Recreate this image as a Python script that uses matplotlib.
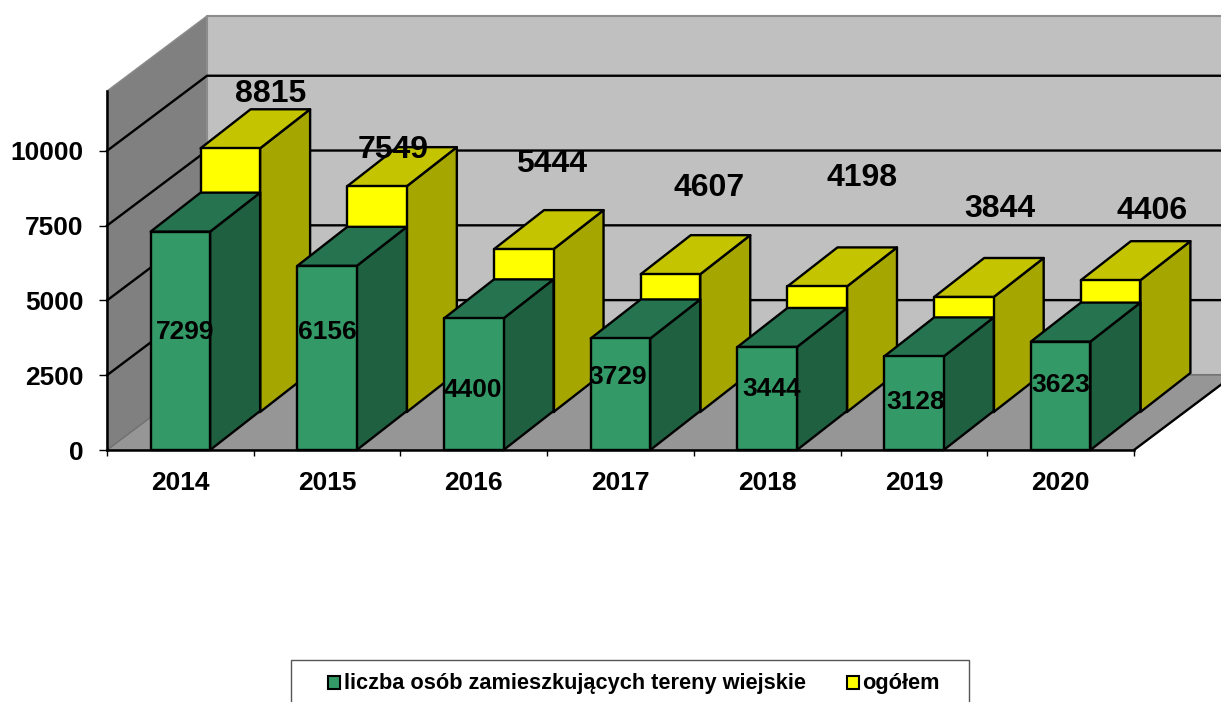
import matplotlib
matplotlib.use('Agg')
import matplotlib.pyplot as plt
from matplotlib.patches import Polygon, Rectangle
from matplotlib.transforms import Affine2D

years = ['2014', '2015', '2016', '2017', '2018', '2019', '2020']
wiejskie = [7299, 6156, 4400, 3729, 3444, 3128, 3623]
ogolem = [8815, 7549, 5444, 4607, 4198, 3844, 4406]
y_ticks = [0, 2500, 5000, 7500, 10000]
legend_labels = ['liczba osób zamieszkujących tereny wiejskie', 'ogółem']

# label centres in image pixels
wiejskie_pos = [(185, 332), (327, 332), (473, 390), (618, 377), (772, 389), (916, 402), (1061, 385)]
ogolem_pos = [(271, 94), (393, 150), (552, 164), (709, 188), (862, 178), (1000, 209), (1152, 211)]

W, H = 1221, 702
FONT = 'Liberation Sans'

fig = plt.figure(figsize=(W / 100, H / 100), dpi=100)
ax = fig.add_axes([107 / W, (H - 450) / H, (1134 - 107) / W, 359 / H])
ax.set_xlim(0, 7)
ax.set_ylim(0, 12000)
ax.patch.set_visible(False)

# image pixels -> figure
px = Affine2D().scale(1, -1).translate(0, H)

# depth of the whole box and of one bar, in data units
box_dx, box_dy = 100 / 146.7, 2510
bar_dx, bar_dy = 50 / 146.7, 1304
back_dy = 1270
bar_w = 59.5 / 146.7


def poly(points, color, edge='black', lw=1.7, z=2):
    ax.add_patch(Polygon(points, closed=True, facecolor=color, edgecolor=edge,
                         linewidth=lw, zorder=z, clip_on=False, joinstyle='round'))


def bar3d(x, y0, value, front, top, side, z):
    x0 = x - bar_w / 2
    x1 = x + bar_w / 2
    y1 = y0 + value
    poly([(x1, y0), (x1 + bar_dx, y0 + bar_dy), (x1 + bar_dx, y1 + bar_dy), (x1, y1)], side, z=z)
    poly([(x0, y1), (x1, y1), (x1 + bar_dx, y1 + bar_dy), (x0 + bar_dx, y1 + bar_dy)], top, z=z)
    poly([(x0, y0), (x1, y0), (x1, y1), (x0, y1)], front, z=z)


# walls and floor
poly([(0, 0), (box_dx, box_dy), (box_dx, 12000 + box_dy), (0, 12000)], '#808080', edge='#8c8c8c', lw=1, z=1)
poly([(box_dx, box_dy), (7 + box_dx, box_dy), (7 + box_dx, 12000 + box_dy), (box_dx, 12000 + box_dy)],
     '#c0c0c0', edge='#8c8c8c', lw=1.5, z=1)
poly([(0, 0), (7, 0), (7 + box_dx, box_dy), (box_dx, box_dy)], '#969696', edge='#6e6e6e', lw=1, z=1.1)

# gridlines
for t in y_ticks[1:]:
    ax.plot([0, box_dx, 7 + box_dx], [t, t + box_dy, t + box_dy], color='black', lw=1.7,
            zorder=1.5, clip_on=False)
ax.plot([7, 7 + box_dx], [0, box_dy], color='black', lw=1.7, zorder=1.5, clip_on=False)

# back series first, then the front one
for i, v in enumerate(ogolem):
    bar3d(i + 0.5 + bar_dx, back_dy, v, '#ffff00', '#c4c400', '#a6a600', 3 + i * 0.01)
for i, v in enumerate(wiejskie):
    bar3d(i + 0.5, 0, v, '#339966', '#267350', '#1f6040', 4 + i * 0.01)

for v, (x, y) in zip(wiejskie, wiejskie_pos):
    ax.text(x, y, str(v), transform=px, family=FONT, fontweight='bold', fontsize=19,
            ha='center', va='center', zorder=6, clip_on=False)
for v, (x, y) in zip(ogolem, ogolem_pos):
    ax.text(x, y, str(v), transform=px, family=FONT, fontweight='bold', fontsize=23,
            ha='center', va='center', zorder=6, clip_on=False)

# axes
for s in ['top', 'right']:
    ax.spines[s].set_visible(False)
for s in ['left', 'bottom']:
    ax.spines[s].set_linewidth(1.8)
    ax.spines[s].set_zorder(2.5)
ax.set_yticks(y_ticks)
ax.set_yticklabels([str(t) for t in y_ticks], family=FONT, fontweight='bold', fontsize=19)
ax.set_xticks(range(8))
ax.set_xticklabels([])
ax.set_xticks([i + 0.5 for i in range(7)], minor=True)
ax.set_xticklabels(years, minor=True, family=FONT, fontweight='bold', fontsize=19)
ax.tick_params(axis='x', which='major', length=4, width=1)
ax.tick_params(axis='x', which='minor', length=0, pad=15)
ax.tick_params(axis='y', length=6, width=1, pad=11)

# legend (box runs off the bottom edge)
fig.add_artist(Rectangle((291, 660), 678, 60, transform=px, facecolor='white', edgecolor='#555555', linewidth=1))
fig.add_artist(Rectangle((328, 676), 12, 13, transform=px, facecolor='#339966', edgecolor='black', linewidth=1.5))
fig.add_artist(Rectangle((847, 676), 12, 13, transform=px, facecolor='#ffff00', edgecolor='black', linewidth=1.5))
fig.text(344 / W, 1 - 683 / H, legend_labels[0], family=FONT, fontweight='bold', fontsize=15.7, va='center')
fig.text(862 / W, 1 - 683 / H, legend_labels[1], family=FONT, fontweight='bold', fontsize=15.7, va='center')

fig.savefig('out.png', dpi=100)
